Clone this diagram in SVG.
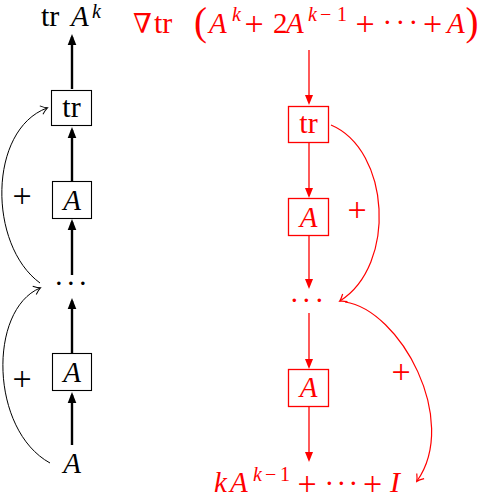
<svg xmlns="http://www.w3.org/2000/svg" width="479" height="498" viewBox="0 0 479 498">
<style>
text{font-family:"Liberation Serif","DejaVu Serif",serif;font-size:29px}
.i{font-style:italic}
.s{font-size:20px}
.p{font-size:34px}
.t{font-size:30px}
.q{font-size:39px}
.k{fill:#000}
.r{fill:#f00}
.bk{fill:#fff;stroke:#000;stroke-width:1.1}
.br{fill:#fff;stroke:#f00;stroke-width:1.3}
.lk{stroke:#000;stroke-width:2.4;fill:none}
.lr{stroke:#f00;stroke-width:1.3;fill:none}
.ck{stroke:#000;stroke-width:1;fill:none}
.cr{stroke:#f00;stroke-width:1.2;fill:none}
</style>
<defs>
<marker id="tk" viewBox="-9 -5 12 10" refX="0" refY="0" markerWidth="12" markerHeight="10" markerUnits="userSpaceOnUse" orient="auto">
<path d="M3,0 L-8,-4.3 L-8,4.3 Z" fill="#000"/>
</marker>
<marker id="tr" viewBox="-9 -5 12 10" refX="0" refY="0" markerWidth="12" markerHeight="10" markerUnits="userSpaceOnUse" orient="auto">
<path d="M3,0 L-7,-4 L-7,4 Z" fill="#f00"/>
</marker>
<marker id="ok" viewBox="-8 -6 10 12" refX="0" refY="0" markerWidth="10" markerHeight="12" markerUnits="userSpaceOnUse" orient="auto">
<path d="M-6,-4.5 Q-2,-1 0.5,0 Q-2,1 -6,4.5" stroke="#000" stroke-width="1" fill="none"/>
</marker>
<marker id="or" viewBox="-8 -6 10 12" refX="0" refY="0" markerWidth="10" markerHeight="12" markerUnits="userSpaceOnUse" orient="auto">
<path d="M-6,-4.5 Q-2,-1 0.5,0 Q-2,1 -6,4.5" stroke="#f00" stroke-width="1.2" fill="none"/>
</marker>
</defs>

<g id="connectors">
<line class="lk" x1="72" y1="89" x2="72" y2="37" marker-end="url(#tk)"/>
<line class="lk" x1="72" y1="181" x2="72" y2="130" marker-end="url(#tk)"/>
<line class="lk" x1="72" y1="275" x2="72" y2="222" marker-end="url(#tk)"/>
<line class="lk" x1="72" y1="353" x2="72" y2="301" marker-end="url(#tk)"/>
<line class="lk" x1="72" y1="445" x2="72" y2="395" marker-end="url(#tk)"/>
<path class="ck" d="M40,283 C-12,245 -12,130 47,108" marker-end="url(#ok)"/>
<path class="ck" d="M50,463 C-10,430 -12,310 40,288" marker-end="url(#ok)"/>
<text x="22" y="207" text-anchor="middle" class="k p">+</text>
<text x="22" y="390" text-anchor="middle" class="k p">+</text>

<line class="lr" x1="309" y1="50" x2="309" y2="102" marker-end="url(#tr)"/>
<line class="lr" x1="309" y1="142" x2="309" y2="195" marker-end="url(#tr)"/>
<line class="lr" x1="309" y1="236" x2="309" y2="286" marker-end="url(#tr)"/>
<line class="lr" x1="309" y1="313" x2="309" y2="366" marker-end="url(#tr)"/>
<line class="lr" x1="309" y1="406" x2="309" y2="459" marker-end="url(#tr)"/>
<path class="cr" d="M331,125 C390,150 397,265 340,301" marker-end="url(#or)"/>
<path class="cr" d="M345,302 C400,310 460,420 417,481" marker-end="url(#or)"/>
<text x="357" y="221" text-anchor="middle" class="r p">+</text>
<text x="401" y="383" text-anchor="middle" class="r p">+</text>
</g>

<g id="top-left">
<text x="41" y="26" class="k t">tr</text>
<text x="71" y="26" class="k i">A</text>
<text x="92" y="18" class="k i s">k</text>
</g>
<g id="tr-left">
<rect class="bk" x="51.5" y="90.5" width="40" height="35"/>
<text x="71.5" y="117" text-anchor="middle" class="k t">tr</text>
</g>
<g id="A1-left">
<rect class="bk" x="52.5" y="181.5" width="39" height="37"/>
<text x="72" y="210" text-anchor="middle" class="k i">A</text>
</g>
<g id="dots-left">
<text x="54 66 78" y="293" class="k">···</text>
</g>
<g id="A2-left">
<rect class="bk" x="52.5" y="353.5" width="39" height="37"/>
<text x="72" y="382" text-anchor="middle" class="k i">A</text>
</g>
<g id="A-bottom-left">
<text x="72" y="473" text-anchor="middle" class="k i">A</text>
</g>

<g id="top-right">
<text x="133" y="33" class="r" style="font-size:27px">∇</text>
<text x="154" y="33" class="r t">tr</text>
<text x="194" y="34.5" class="r q">(</text>
<text x="209" y="33" class="r i">A</text>
<text x="232" y="21" class="r i s">k</text>
<text x="254" y="35" text-anchor="middle" class="r p">+</text>
<text x="273" y="33" class="r">2</text>
<text x="286" y="33" class="r i">A</text>
<text y="21" class="r s"><tspan x="308" class="i">k</tspan><tspan x="320">−</tspan><tspan x="337">1</tspan></text>
<text x="365" y="35" text-anchor="middle" class="r p">+</text>
<text x="382.5 395.5 408.5" y="31.5" class="r">···</text>
<text x="432.5" y="35" text-anchor="middle" class="r p">+</text>
<text x="447" y="33" class="r i">A</text>
<text x="465.5" y="34.5" class="r q">)</text>
</g>
<g id="tr-right">
<rect class="br" x="288.5" y="106.5" width="40" height="36"/>
<text x="308.5" y="133" text-anchor="middle" class="r t">tr</text>
</g>
<g id="A1-right">
<rect class="br" x="288.5" y="198.5" width="40" height="37"/>
<text x="308.5" y="227" text-anchor="middle" class="r i">A</text>
</g>
<g id="dots-right">
<text x="289.5 301.5 314.5" y="310" class="r">···</text>
</g>
<g id="A2-right">
<rect class="br" x="288.5" y="369.5" width="40" height="37"/>
<text x="308.5" y="397" text-anchor="middle" class="r i">A</text>
</g>
<g id="bottom-right">
<text x="214" y="492" class="r i">k</text>
<text x="230" y="492" class="r i">A</text>
<text y="481" class="r s"><tspan x="253" class="i">k</tspan><tspan x="265">−</tspan><tspan x="280">1</tspan></text>
<text x="307" y="495" text-anchor="middle" class="r p">+</text>
<text x="324.5 336.5 348.5" y="492.5" class="r">···</text>
<text x="372.5" y="495" text-anchor="middle" class="r p">+</text>
<text x="390" y="492" class="r i" style="font-size:30px">I</text>
</g>
</svg>
